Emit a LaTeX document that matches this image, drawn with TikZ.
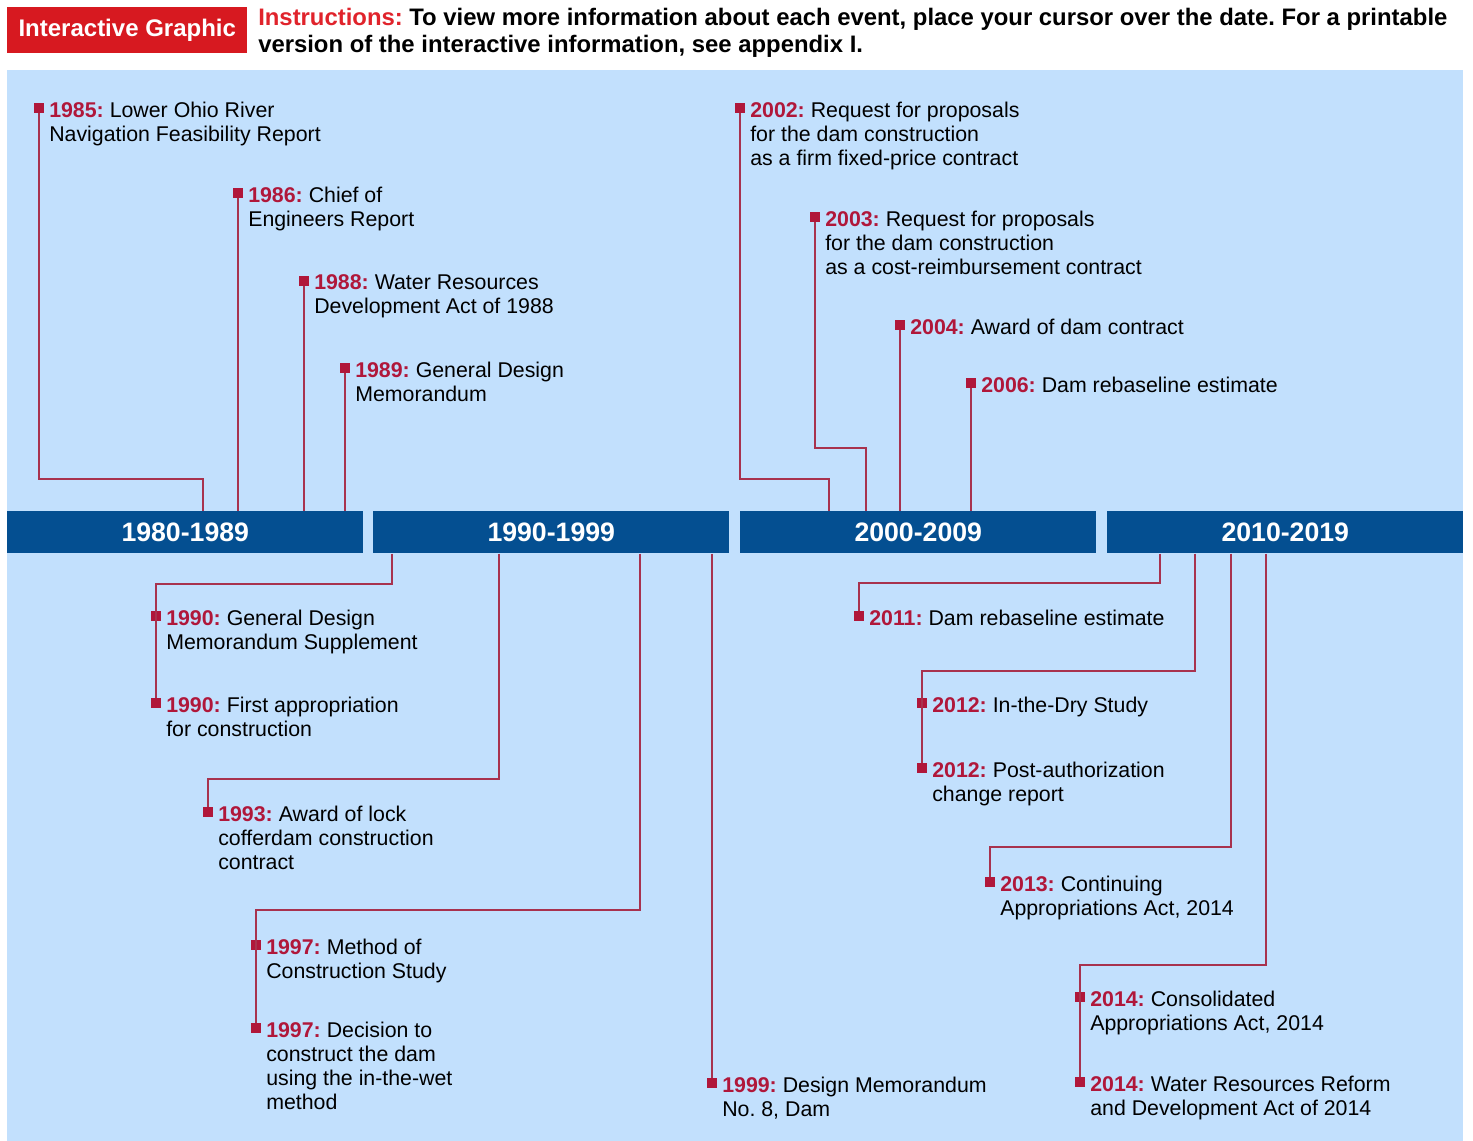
\documentclass[tikz,border=0pt]{standalone}
\usepackage{fontspec}
\setmainfont{Liberation Sans}
\usetikzlibrary{positioning}
\usepackage{xcolor}
\frenchspacing

\definecolor{gaoblue}{HTML}{044F91}
\definecolor{gaosky}{HTML}{C2E0FD}
\definecolor{gaored}{HTML}{D71920}
\definecolor{instred}{HTML}{E0232B}
\definecolor{datered}{HTML}{B0173A}
\definecolor{linkred}{HTML}{A8324E}

\newcommand{\evyear}[1]{\textcolor{datered}{\bfseries #1:}}

\begin{document}
\begin{tikzpicture}[x=0.75pt,y=-0.75pt,
  decade/.style={fill=gaoblue,text=white,font=\fontsize{20}{24}\selectfont\bfseries,
    minimum width=267pt,minimum height=31.5pt,inner sep=0,anchor=north west},
  evmark/.style={fill=datered,minimum size=7pt,inner sep=0},
  evtext/.style={anchor=north west,align=left,inner sep=0,yshift=5pt,
    font=\fontsize{16}{18}\selectfont},
  link/.style={linkred,line width=1.1pt}]
\useasboundingbox (0,0) rectangle (1473,1141);
\fill[gaosky] (7,70) rectangle (1463,1141);

% header
\node [fill=gaored,text=white,font=\fontsize{18}{20}\selectfont\bfseries,
  minimum width=180pt,minimum height=34.5pt,inner sep=0,anchor=north west] (tag) at (7,7) {Interactive Graphic};
\node [anchor=north west,align=left,inner sep=0,font=\fontsize{17.9}{20.25}\selectfont\bfseries] (inst) at (258,8)
  {\textcolor{instred}{Instructions:} To view more information about each event, place your cursor over the date. For a printable\\
   version of the interactive information, see appendix I.};

% decades
\node [decade] (d80) at (7,511) {1980-1989};
\node [decade] (d90) at (373,511) {1990-1999};
\node [decade] (d00) at (740,511) {2000-2009};
\node [decade] (d10) at (1107,511) {2010-2019};

% markers
\node [evmark] (m1985) at (39,108) {};
\node [evmark] (m1986) at (238,193) {};
\node [evmark] (m1988) at (304,281) {};
\node [evmark] (m1989) at (345,368) {};
\node [evmark] (m2002) at (740,108) {};
\node [evmark] (m2003) at (815,217) {};
\node [evmark] (m2004) at (900,325) {};
\node [evmark] (m2006) at (971,383) {};
\node [evmark] (m1990a) at (156,616) {};
\node [evmark] (m1990b) at (156,703) {};
\node [evmark] (m1993) at (208,812) {};
\node [evmark] (m1997a) at (256,945) {};
\node [evmark] (m1997b) at (256,1028) {};
\node [evmark] (m1999) at (712,1083) {};
\node [evmark] (m2011) at (859,616) {};
\node [evmark] (m2012a) at (922,703) {};
\node [evmark] (m2012b) at (922,768) {};
\node [evmark] (m2013) at (990,882) {};
\node [evmark] (m2014a) at (1080,997) {};
\node [evmark] (m2014b) at (1080,1082) {};

% events
\node [right=7.5pt of m1985.center,evtext] (t1985) {\evyear{1985} Lower Ohio River\\Navigation Feasibility Report};
\node [right=7.5pt of m1986.center,evtext] (t1986) {\evyear{1986} Chief of\\Engineers Report};
\node [right=7.5pt of m1988.center,evtext] (t1988) {\evyear{1988} Water Resources\\Development Act of 1988};
\node [right=7.5pt of m1989.center,evtext] (t1989) {\evyear{1989} General Design\\Memorandum};
\node [right=7.5pt of m2002.center,evtext] (t2002) {\evyear{2002} Request for proposals\\for the dam construction\\as a firm fixed-price contract};
\node [right=7.5pt of m2003.center,evtext] (t2003) {\evyear{2003} Request for proposals\\for the dam construction\\as a cost-reimbursement contract};
\node [right=7.5pt of m2004.center,evtext] (t2004) {\evyear{2004} Award of dam contract};
\node [right=7.5pt of m2006.center,evtext] (t2006) {\evyear{2006} Dam rebaseline estimate};
\node [right=7.5pt of m1990a.center,evtext] (t1990a) {\evyear{1990} General Design\\Memorandum Supplement};
\node [right=7.5pt of m1990b.center,evtext] (t1990b) {\evyear{1990} First appropriation\\for construction};
\node [right=7.5pt of m1993.center,evtext] (t1993) {\evyear{1993} Award of lock\\cofferdam construction\\contract};
\node [right=7.5pt of m1997a.center,evtext] (t1997a) {\evyear{1997} Method of\\Construction Study};
\node [right=7.5pt of m1997b.center,evtext] (t1997b) {\evyear{1997} Decision to\\construct the dam\\using the in-the-wet\\method};
\node [right=7.5pt of m1999.center,evtext] (t1999) {\evyear{1999} Design Memorandum\\No. 8, Dam};
\node [right=7.5pt of m2011.center,evtext] (t2011) {\evyear{2011} Dam rebaseline estimate};
\node [right=7.5pt of m2012a.center,evtext] (t2012a) {\evyear{2012} In-the-Dry Study};
\node [right=7.5pt of m2012b.center,evtext] (t2012b) {\evyear{2012} Post-authorization\\change report};
\node [right=7.5pt of m2013.center,evtext] (t2013) {\evyear{2013} Continuing\\Appropriations Act, 2014};
\node [right=7.5pt of m2014a.center,evtext] (t2014a) {\evyear{2014} Consolidated\\Appropriations Act, 2014};
\node [right=7.5pt of m2014b.center,evtext] (t2014b) {\evyear{2014} Water Resources Reform\\and Development Act of 2014};

% elbows
\coordinate (k1985) at (203,479);
\coordinate (k2002) at (829,479);
\coordinate (k2003) at (866,448);
\coordinate (k1990) at (392,584);
\coordinate (k1993) at (499,779);
\coordinate (k1997) at (640,910);
\coordinate (k2011) at (1160,583);
\coordinate (k2012) at (1195,671);
\coordinate (k2013) at (1231,847);
\coordinate (k2014) at (1266,965);

% links above
\draw [link] (m1985) |- (k1985) -- (k1985 |- d80.north);
\draw [link] (m1986) -- (m1986 |- d80.north);
\draw [link] (m1988) -- (m1988 |- d80.north);
\draw [link] (m1989) -- (m1989 |- d80.north);
\draw [link] (m2002) |- (k2002) -- (k2002 |- d00.north);
\draw [link] (m2003) |- (k2003) -- (k2003 |- d00.north);
\draw [link] (m2004) -- (m2004 |- d00.north);
\draw [link] (m2006) -- (m2006 |- d00.north);

% links below
\draw [link] (k1990 |- d90.south) -- (k1990) -| (m1990b);
\draw [link] (k1993 |- d90.south) -- (k1993) -| (m1993);
\draw [link] (k1997 |- d90.south) -- (k1997) -| (m1997b);
\draw [link] (m1999 |- d90.south) -- (m1999);
\draw [link] (k2011 |- d10.south) -- (k2011) -| (m2011);
\draw [link] (k2012 |- d10.south) -- (k2012) -| (m2012b);
\draw [link] (k2013 |- d10.south) -- (k2013) -| (m2013);
\draw [link] (k2014 |- d10.south) -- (k2014) -| (m2014b);
\end{tikzpicture}
\end{document}
